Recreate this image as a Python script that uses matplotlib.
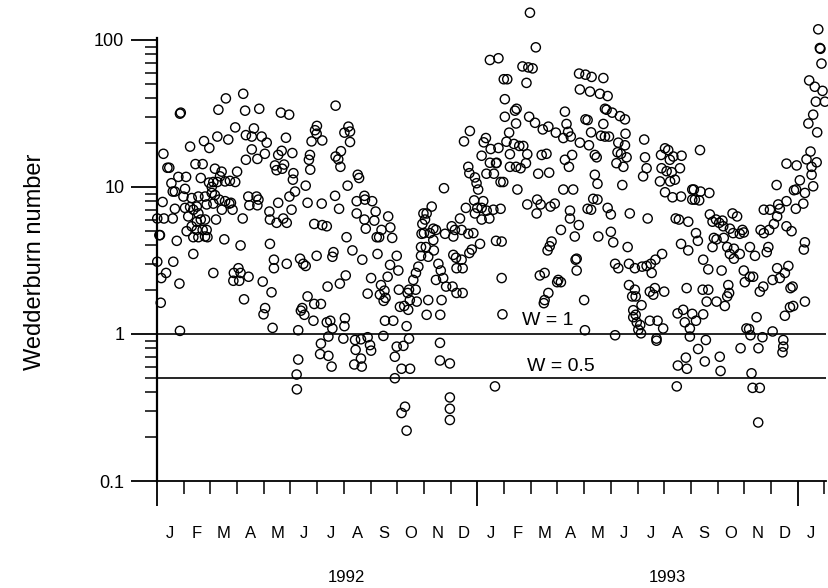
import matplotlib
matplotlib.use("Agg")
import matplotlib.pyplot as plt
from matplotlib.ticker import FixedLocator, NullFormatter

plt.rcParams['font.family'] = ['Liberation Sans', 'DejaVu Sans']

# x = months since 1 Jan 1992, y = Wedderburn number
obs_1992 = [
    (3.23,43),(2.58,40),(2.30,33.5),(3.30,33),(3.83,34),(0.89,32),(0.86,31.5),(4.64,32),(2.93,25.4),(3.63,25),
    (3.33,22.5),(3.55,22),(3.92,22),(4.11,20),(4.83,21.6),(2.26,22),(2.67,21),(1.76,20.5),(1.96,18.4),(1.24,18.8),
    (3.55,18),(3.33,15.3),(3.76,15.5),(4.04,16.8),(4.67,17.6),(4.54,16.5),(4.76,14.2),(4.42,14),(4.48,13),(4.69,13.3),
    (0.24,16.8),(0.39,13.5),(0.46,13.5),(0.80,11.7),(1.09,11.7),(0.54,10.6),(1.44,14.3),(1.71,14.3),(2.17,13.3),(2.42,12.7),
    (3.0,12.7),(1.64,11.5),(1.95,10.7),(2.05,10),(2.26,10.8),(2.55,10.9),(2.73,11),(2.93,10.8),(2.36,11.8),(2.11,10.8),
    (1.05,9.7),(0.59,9.3),(0.67,9.3),(0.99,8.6),(1.30,8.4),(1.55,8.6),(1.80,8.6),(2.05,9.1),(2.17,8.8),(2.33,8.2),
    (2.55,8.0),(2.77,7.8),(2.71,7.7),(3.42,8.6),(3.73,8.6),(3.80,8.2),(3.46,7.5),(3.76,7.5),(0.21,7.9),(0.67,7.1),
    (1.05,7.2),(1.24,7.3),(1.36,7.0),(1.49,7.35),(1.55,6.6),(1.86,7.6),(2.11,7.7),(2.43,7.0),(2.83,7.0),(3.21,6.1),
    (4.21,6.8),(4.54,7.8),(4.96,8.6),(0.01,6.1),(0.26,6.1),(0.59,6.1),(1.17,6.3),(1.49,5.8),(1.64,6.0),(1.80,6.0),
    (1.30,5.4),(1.49,5.1),(1.71,5.1),(1.86,5.1),(2.21,6.0),(1.11,5.0),(1.80,4.6),(1.36,4.55),(1.55,4.55),(1.89,4.55),
    (0.74,4.3),(2.52,4.4),(4.23,6.0),(4.48,5.7),(4.73,6.1),(4.86,5.7),(4.23,4.1),(0.09,4.7),(0.11,4.7),(3.13,4.0),
    (4.95,31),(5.04,7.0),
    (0.01,3.1),(0.61,3.1),(0.34,2.6),(0.16,2.4),(0.84,2.2),(0.14,1.63),(0.86,1.05),(1.36,3.5),(2.11,2.6),(2.88,2.6),
    (3.05,2.8),(3.13,2.6),(3.08,2.3),(2.86,2.3),(3.43,2.45),(3.26,1.72),(3.96,2.27),(4.29,1.92),(4.05,1.5),(3.99,1.36),
    (4.33,1.10),(4.38,3.2),(4.38,2.8),(4.86,3.0),
    (6.69,35.7),(5.99,26),(5.92,24.3),(5.98,23),(5.79,20.4),(6.19,20.7),(7.17,25.7),(7.02,23.4),(7.23,23.8),(7.23,20.2),
    (6.89,17.5),(6.69,16.1),(6.79,15.4),(6.87,13.7),(5.73,16.5),(5.69,15.3),(5.74,13.1),(5.07,17),(5.11,12.4),(5.09,11.2),
    (5.57,10.2),(5.17,9.3),(7.52,12.1),(7.57,11.5),(7.14,10.2),(5.64,7.8),(6.17,7.7),(6.67,8.7),(6.82,7.1),(7.48,8.0),
    (7.77,8.7),(7.79,8.2),(8.06,8.0),(8.19,6.8),(7.48,6.6),(7.77,6.0),(7.82,5.2),(8.14,5.9),(8.66,6.3),(8.74,5.3),
    (8.81,4.5),(8.41,5.1),(8.23,4.55),(8.32,4.55),(5.89,5.6),(6.19,5.5),(6.36,5.4),(7.10,4.55),(7.32,3.7),(7.69,3.2),
    (8.26,3.5),(8.98,3.4),(8.73,2.95),(9.04,2.7),(8.64,2.45),(6.61,3.6),(6.57,3.35),(5.98,3.4),(5.36,3.25),(5.48,3.0),
    (5.57,2.9),(7.07,2.5),(6.85,2.2),(6.39,2.1),(8.02,2.4),(7.89,1.88),(8.39,2.15),(8.35,1.85),(8.52,1.97),(8.49,1.68),
    (8.56,1.76),(5.64,1.8),(5.44,1.5),(5.39,1.44),(5.52,1.35),(5.89,1.6),(6.14,1.6),(5.86,1.23),(5.29,1.06),(6.36,1.2),
    (6.49,1.23),(7.04,1.28),(7.02,1.13),(6.57,1.09),(6.42,0.96),(6.14,0.86),(6.11,0.73),(6.42,0.71),(6.54,0.60),(5.29,0.67),
    (5.23,0.53),(5.24,0.42),(6.98,0.93),(7.42,0.91),(7.64,0.92),(7.89,0.95),(7.44,0.78),(7.39,0.62),(7.64,0.68),(7.67,0.60),
    (8.02,0.77),(7.98,0.84),(8.54,1.23),(8.85,1.23),(8.48,0.97),(9.06,2.0),(9.10,1.53),(9.26,1.55),(9.41,1.46),(9.47,1.7),
    (9.39,1.9),(9.44,2.0),(9.69,2.0),(9.73,1.66),(9.6,2.33),(9.70,2.6),(9.79,2.87),(9.89,3.4),(9.89,3.9),(9.91,4.8),
    (9.94,5.6),(9.35,1.13),(9.44,0.93),(9.23,0.83),(8.98,0.82),(8.91,0.70),(9.16,0.58),(9.48,0.58),(8.91,0.50),(9.29,0.32),
    (9.16,0.29),(9.35,0.22),(9.98,6.6),
    (10.75,9.8),(10.29,7.35),(10.10,6.6),(10.04,6.0),(10.35,5.2),(10.45,5.1),(10.00,4.85),(10.22,4.85),(10.79,4.8),(11.04,5.4),
    (11.10,4.6),(11.16,5.1),(11.41,5.1),(11.66,4.8),(11.85,4.85),(11.79,3.75),(11.70,3.55),(11.41,3.2),(11.20,3.3),(11.10,3.45),
    (11.45,2.8),(11.22,2.8),(11.07,2.1),(11.22,1.9),(11.45,1.9),(10.35,4.35),(10.07,3.9),(10.37,3.7),(10.16,3.35),(10.54,3.0),
    (10.63,2.7),(10.45,2.33),(10.72,2.4),(10.83,2.1),(10.16,1.7),(10.66,1.7),(10.10,1.35),(10.61,1.35),(10.60,0.87),(10.60,0.66),
    (10.97,0.63),(10.97,0.37),(10.97,0.31),(10.97,0.26),(11.72,24),(11.50,20.4),(11.66,13.7),(11.70,12.4),(11.91,11.6),(11.97,10.6),
    (11.88,8.1),(11.91,6.6),(11.57,7.2),(11.35,6.1),
]

obs_1993 = [
    (13.97,153),(14.19,89),(12.47,73),(12.79,75),(13.69,66),(13.91,65),(14.07,64),(13.84,51),(12.99,54),(13.12,54),
    (13.03,39.5),(13.47,34),(13.41,33),(13.03,30),(13.94,30),(14.16,27.3),(14.45,24.6),(14.66,25.7),(14.94,23.4),(13.45,27),
    (13.19,23.4),(12.32,21.5),(12.24,20.1),(12.50,18.1),(12.79,18.4),(12.70,14.5),(13.09,20.3),(13.37,19.6),(13.57,19),(13.72,19),
    (13.87,16.7),(13.62,13.4),(13.82,14.5),(13.22,16.7),(12.16,16.3),(12.47,14.6),(12.72,14.6),(12.34,12.3),(12.87,10.8),(12.62,12.3),
    (13.22,13.7),(13.45,13.7),(12.03,9.6),(12.97,10.8),(13.50,9.6),(14.28,12.3),(14.69,12.5),(14.41,16.5),(14.59,16.8),(14.24,8.2),
    (13.87,7.6),(14.22,6.6),(14.37,7.6),(14.74,7.35),(14.90,7.7),(12.22,8.0),(12.0,7.2),(12.16,7.2),(12.35,6.9),(12.16,6.0),
    (12.45,6.1),(12.60,7.0),(12.87,7.1),(12.10,4.1),(12.70,4.3),(12.91,4.25),(12.91,2.4),(12.94,1.36),(14.34,2.5),(14.52,2.6),
    (14.99,2.25),(14.66,1.9),(14.52,1.7),(14.49,1.62),(14.78,4.25),(14.63,3.7),(14.71,3.95),(12.66,0.44),
    (15.81,59),(16.05,58),(16.28,56),(16.72,55),(15.84,46),(16.22,44.5),(16.59,43),(16.88,41.5),(16.78,34),(16.84,33.5),
    (17.05,32),(17.34,30.3),(17.53,28.8),(16.05,28.8),(16.13,28.5),(15.28,32.5),(15.34,26.8),(15.40,23.7),(15.22,21.5),(15.50,22),
    (16.26,23.5),(16.63,22.3),(16.78,22),(16.93,22),(16.72,26.8),(15.84,20),(16.18,19.2),(16.40,16.5),(16.47,15.9),(17.28,20),
    (17.53,19.2),(17.25,17.2),(17.38,16.8),(17.47,13.7),(17.21,14.5),(17.59,15.9),(17.55,23),(18.25,21),(15.55,16.5),(15.28,15.3),
    (15.43,13.7),(16.40,12.1),(16.50,10.5),(17.43,10.3),(18.28,15.9),(18.34,13.4),(18.21,11.8),(15.22,9.6),(15.59,9.6),(16.34,8.3),
    (16.50,8.2),(16.13,7.1),(16.26,7.0),(15.47,6.9),(15.47,6.1),(16.88,7.2),(17.0,6.5),(17.71,6.6),(18.38,6.1),(15.13,5.1),
    (15.80,5.5),(15.65,4.6),(16.53,4.6),(17.0,4.95),(17.09,4.2),(15.72,3.25),(15.68,3.2),(15.72,2.7),(15.03,2.33),(15.13,2.25),
    (17.16,3.0),(17.28,2.8),(17.63,3.9),(17.68,3.0),(17.90,2.8),(18.17,2.87),(18.34,2.9),(18.50,3.0),(18.67,3.2),(18.92,3.5),
    (18.53,2.6),(16.0,1.70),(17.68,2.15),(17.90,2.0),(17.93,1.8),(17.80,1.8),(18.15,1.57),(17.84,1.45),(17.93,1.35),(17.84,1.3),
    (17.97,1.2),(18.10,1.15),(18.03,1.07),(18.13,1.01),(18.46,1.94),(18.59,1.85),(19.0,1.94),(18.65,2.05),(18.46,1.23),(18.75,1.23),
    (18.96,1.09),(18.71,0.93),(18.71,0.9),(17.16,0.98),(16.03,1.06),(19.84,2.05),(19.50,1.38),(19.71,1.46),(19.77,1.2),(19.96,1.09),
    (20.05,1.37),(19.96,0.96),(19.03,18.3),(19.15,17.8),(19.21,15.3),(19.34,16.1),(19.65,16.3),(18.88,16.5),(18.90,13.4),(19.28,12.6),
    (19.40,11.2),(19.59,13.4),(19.03,9.2),(19.31,8.5),(19.63,8.6),(19.43,6.1),(19.55,6.0),(19.90,5.8),(19.63,4.1),(19.90,3.7),
    (20.05,8.2),(20.05,9.6),(19.47,0.44),(19.51,0.61),(19.81,0.69),(19.85,0.58),(19.09,12.8),(19.22,10.9),(18.84,10.9),
    (24.77,118),(24.83,88),(24.85,87),(24.89,69),(24.43,53),(24.64,48),(24.93,45),(24.68,38),(25.02,38),(24.58,31),
    (24.40,27),(24.73,23.5),(20.34,17.8),(24.48,17.4),(24.33,15.4),(24.71,14.7),(24.52,13.7),(24.52,12.1),(24.58,10.1),(23.58,14.4),
    (23.96,14),(24.08,11.1),(23.94,9.6),(23.86,9.5),(24.27,9.1),(23.21,10.3),(24.21,7.7),(20.11,9.6),(20.15,8.2),(20.31,8.1),
    (20.36,9.3),(20.69,9.1),(20.71,6.5),(20.81,5.8),(20.94,6.0),(21.06,5.7),(21.18,5.9),(21.56,6.6),(21.73,6.3),(21.21,5.4),
    (21.46,5.2),(20.86,4.5),(20.96,4.4),(21.23,4.5),(21.58,4.85),(21.93,5.1),(21.83,4.8),(21.98,4.9),(20.19,4.85),(20.26,4.3),
    (20.81,3.9),(21.36,3.9),(21.61,3.8),(21.46,3.5),(21.61,3.25),(21.83,3.5),(22.21,3.9),(22.40,3.4),(22.84,3.6),(22.90,3.9),
    (22.73,4.85),(22.61,5.1),(22.93,5.1),(23.11,5.6),(23.23,6.3),(22.73,7.0),(22.96,7.0),(23.27,7.6),(23.33,7.1),(23.58,8.0),
    (23.93,7.1),(24.27,4.2),(24.23,3.75),(23.58,5.4),(23.77,5.0),(20.46,3.2),(20.65,2.75),(21.15,2.7),(20.44,2.0),(20.65,2.0),
    (20.59,1.66),(20.96,1.66),(21.27,1.55),(21.36,1.8),(21.43,1.9),(21.40,2.15),(21.98,2.7),(22.21,2.45),(22.33,2.45),(22.02,2.25),
    (22.58,1.94),(22.71,2.1),(23.06,2.33),(23.23,2.8),(23.33,2.4),(23.65,2.9),(23.52,2.6),(23.81,2.1),(23.73,2.05),(24.27,1.66),
    (23.71,1.52),(23.83,1.55),(23.52,1.33),(20.46,1.36),(20.19,1.23),(22.46,1.3),(22.08,1.09),(22.18,1.08),(22.23,0.98),(22.68,0.95),
    (23.06,1.04),(23.46,0.91),(23.46,0.82),(23.43,0.75),(21.86,0.8),(22.53,0.8),(20.56,0.91),(20.27,0.79),(20.52,0.65),(21.08,0.7),
    (21.11,0.56),(22.27,0.54),(22.31,0.43),(22.58,0.43),(22.52,0.25),
]

month_letters = ["J", "F", "M", "A", "M", "J", "J", "A", "S", "O", "N", "D",
                 "J", "F", "M", "A", "M", "J", "J", "A", "S", "O", "N", "D", "J"]
year_labels = ["1992", "1993"]
year_label_pos = [7.1, 19.1]
threshold_values = [1.0, 0.5]
threshold_labels = ["W = 1", "W = 0.5"]
threshold_label_pos = [13.67, 13.86]
y_major = [0.1, 1, 10, 100]
y_major_labels = ["0.1", "1", "10", "100"]

W_PX, H_PX = 829, 588
fig = plt.figure(figsize=(W_PX / 100, H_PX / 100), dpi=100)
ax = fig.add_axes([157 / W_PX, 1 - 481 / H_PX, (826 - 157) / W_PX, (481 - 38) / H_PX])

xs = [p[0] for p in obs_1992 + obs_1993]
ys = [p[1] for p in obs_1992 + obs_1993]
ax.scatter(xs, ys, s=44, facecolors='none', edgecolors='black', linewidths=1.0,
           clip_on=False, zorder=3)

ax.set_yscale('log')
ax.set_ylim(0.1, 103)
ax.set_xlim(0, 25.06)

for v in threshold_values:
    ax.axhline(v, color='black', lw=1.2, zorder=2)
for lab, v, xp in zip(threshold_labels, threshold_values, threshold_label_pos):
    ax.annotate(lab, xy=(xp, v), xytext=(0, 9 if v == 1 else 7), textcoords='offset pixels',
                ha='left', va='baseline', fontsize=14)

for s in ['top', 'right']:
    ax.spines[s].set_visible(False)
ax.spines['left'].set_linewidth(1.6)
ax.spines['bottom'].set_linewidth(1.3)

ax.yaxis.set_major_locator(FixedLocator(y_major))
ax.set_yticklabels(y_major_labels, fontsize=13)
minor_y = [m * 10.0 ** e for e in range(-1, 2) for m in range(2, 10)]
ax.yaxis.set_minor_locator(FixedLocator(minor_y))
ax.yaxis.set_minor_formatter(NullFormatter())
ax.tick_params(axis='y', which='major', direction='out', length=18.5, width=1.3, pad=5)
ax.tick_params(axis='y', which='minor', direction='out', length=8.5, width=1.1)

ax.xaxis.set_major_locator(FixedLocator([0, 12, 24]))
ax.xaxis.set_minor_locator(FixedLocator(list(range(0, 26))))
ax.xaxis.set_major_formatter(NullFormatter())
ax.xaxis.set_minor_formatter(NullFormatter())
ax.tick_params(axis='x', which='major', direction='out', length=18, width=1.3)
ax.tick_params(axis='x', which='minor', direction='out', length=9, width=1.1)

for i, lab in enumerate(month_letters):
    ax.annotate(lab, xy=(i + 0.5, 0), xycoords=('data', 'axes fraction'),
                xytext=(0, -52), textcoords='offset pixels', ha='center', va='center',
                fontsize=12)
for lab, xp in zip(year_labels, year_label_pos):
    ax.annotate(lab, xy=(xp, 0), xycoords=('data', 'axes fraction'),
                xytext=(0, -96), textcoords='offset pixels', ha='center', va='center',
                fontsize=12)

fig.text(35 / W_PX, 1 - 262 / H_PX, "Wedderburn number", rotation=90,
         ha='center', va='center', fontsize=17)

fig.savefig("out.png", dpi=100)
